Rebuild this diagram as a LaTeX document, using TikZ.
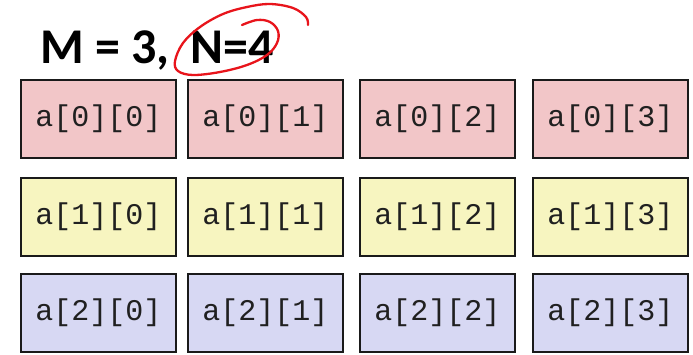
\documentclass[tikz,border=0pt]{standalone}
\usepackage{fontspec}
\setmainfont{Liberation Sans}
\newfontfamily\titlefont{Carlito}
\newfontfamily\cellfont{Liberation Mono}
\definecolor{rowA}{HTML}{F2C6C8}
\definecolor{rowB}{HTML}{F7F5C0}
\definecolor{rowC}{HTML}{D7D8F3}
\definecolor{cellline}{HTML}{1A1A1A}
\definecolor{celltext}{HTML}{202020}
\definecolor{penred}{HTML}{E8141B}
\begin{document}
\begin{tikzpicture}[x=1pt,y=-1pt,
  cellbox/.style={draw=cellline, line width=2pt, minimum width=155pt, minimum height=78pt,
    inner sep=0pt, anchor=north west, text=celltext, font=\cellfont\fontsize{30}{30}\selectfont},
  pinkcell/.style={cellbox, fill=rowA},
  yellowcell/.style={cellbox, fill=rowB},
  bluecell/.style={cellbox, fill=rowC},
  titletext/.style={anchor=base west, inner sep=0pt, font=\titlefont\bfseries\fontsize{50}{50}\selectfont},
  penstroke/.style={draw=penred, line width=2.3pt, line cap=round, line join=round}]
\useasboundingbox (0,0) rectangle (693,354);
\node[titletext] (title) at (40,63) {M = 3,\hspace{10pt} N=4};
% row 0
\node[pinkcell] (a00) at (20,79) {a[0][0]};
\node[pinkcell] (a01) at (187,79) {a[0][1]};
\node[pinkcell] (a02) at (359,79) {a[0][2]};
\node[pinkcell] (a03) at (532,79) {a[0][3]};
% row 1
\node[yellowcell] (a10) at (20,177) {a[1][0]};
\node[yellowcell] (a11) at (187,177) {a[1][1]};
\node[yellowcell] (a12) at (359,177) {a[1][2]};
\node[yellowcell] (a13) at (532,177) {a[1][3]};
% row 2
\node[bluecell] (a20) at (20,273) {a[2][0]};
\node[bluecell] (a21) at (187,273) {a[2][1]};
\node[bluecell] (a22) at (359,273) {a[2][2]};
\node[bluecell] (a23) at (532,273) {a[2][3]};
% hand-drawn red circle around N=4
\draw[penstroke] plot[smooth, tension=0.6] coordinates {
  (242,25) (257,20) (270,22) (278,31) (277,43) (267,55) (247,65) (220,72)
  (193,75) (178,71) (175,61) (183,43) (200,27) (223,14) (247,7) (270,4)
  (293,8) (306,17) (308,25)};
\end{tikzpicture}
\end{document}
